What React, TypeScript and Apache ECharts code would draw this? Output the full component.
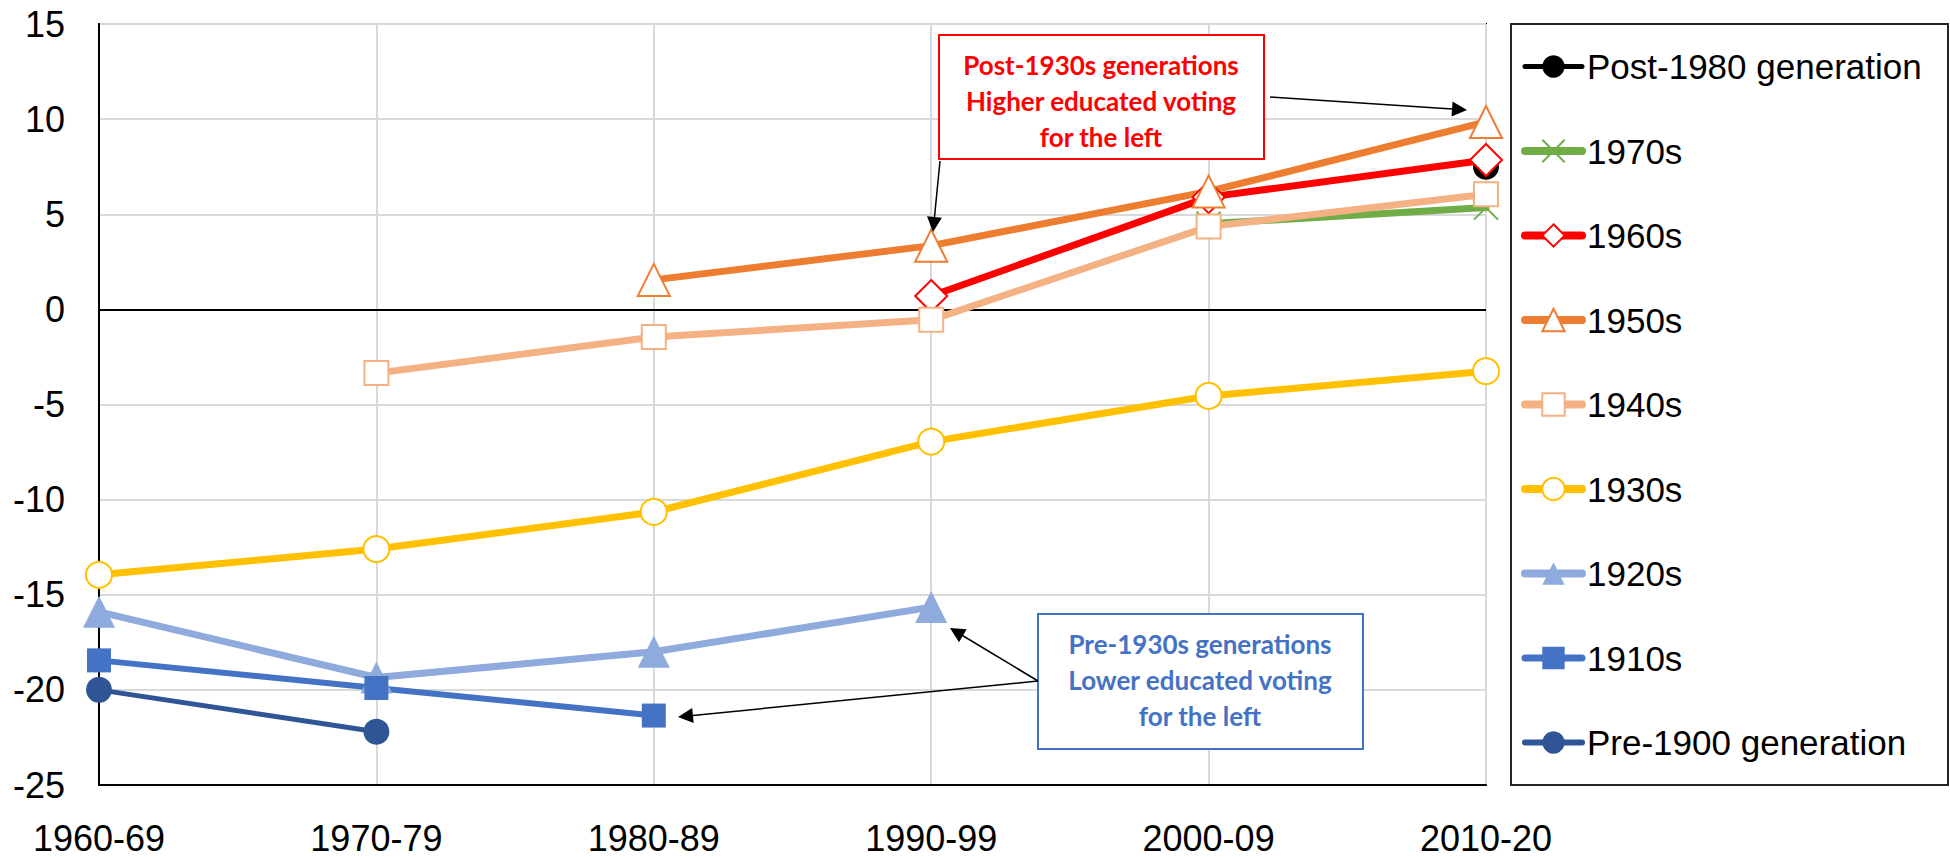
import React, { useEffect, useRef } from "react";
import * as echarts from "echarts";

const categories = ["1960-69", "1970-79", "1980-89", "1990-99", "2000-09", "2010-20"];
const seriesNames = ["Post-1980 generation", "1970s", "1960s", "1950s", "1940s", "1930s", "1920s", "1910s", "Pre-1900 generation"];
const post1980 = [null, null, null, null, null, 7.5];
const gen1970 = [null, null, null, null, 4.5, 5.35];
const gen1960 = [null, null, null, 0.7, 5.9, 7.85];
const gen1950 = [null, null, 1.55, 3.35, 6.2, 9.85];
const gen1940 = [null, -3.35, -1.45, -0.55, 4.35, 6.05];
const gen1930 = [-13.95, -12.6, -10.65, -6.95, -4.55, -3.25];
const gen1920 = [-15.9, -19.35, -18.0, -15.65, null, null];
const gen1910 = [-18.45, -19.9, -21.35, null, null, null];
const pre1900 = [-20.0, -22.2, null, null, null, null];
const yTicks = { min: -25, max: 15, interval: 5 };

const redNote = "Post-1930s generations\nHigher educated voting\nfor the left";
const blueNote = "Pre-1930s generations\nLower educated voting\nfor the left";

const AXIS_FONT = "'Liberation Sans', Arial, sans-serif";
const NOTE_FONT = "Lato, 'Open Sans', sans-serif";

type Style = {
  color: string;
  width: number;
  symbol: string;
  size: number;
  fill: string;
  border: number;
};

const styles: Style[] = [
  { color: "#000000", width: 4, symbol: "circle", size: 26, fill: "#000000", border: 0 },
  { color: "#70AD47", width: 7, symbol: "path://M0,0L10,10M10,0L0,10", size: 24, fill: "#70AD47", border: 2 },
  { color: "#FF0000", width: 7, symbol: "diamond", size: 32, fill: "#FFFFFF", border: 2 },
  { color: "#ED7D31", width: 7, symbol: "triangle", size: 32, fill: "#FFFFFF", border: 2 },
  { color: "#F4B183", width: 7, symbol: "rect", size: 24, fill: "#FFFFFF", border: 2 },
  { color: "#FFC000", width: 7, symbol: "circle", size: 26, fill: "#FFFFFF", border: 2 },
  { color: "#8FAADC", width: 7, symbol: "triangle", size: 32, fill: "#8FAADC", border: 0 },
  { color: "#4472C4", width: 6, symbol: "rect", size: 24, fill: "#4472C4", border: 0 },
  { color: "#2F5597", width: 5, symbol: "circle", size: 26, fill: "#2F5597", border: 0 },
];

function arrow(x1: number, y1: number, x2: number, y2: number) {
  const dx = x2 - x1;
  const dy = y2 - y1;
  const len = Math.sqrt(dx * dx + dy * dy);
  const ux = dx / len;
  const uy = dy / len;
  const hl = 15;
  const hw = 7.5;
  const bx = x2 - ux * hl;
  const by = y2 - uy * hl;
  return [
    {
      type: "line",
      shape: { x1, y1, x2: bx, y2: by },
      style: { stroke: "#000", lineWidth: 1.5 },
      z: 100,
    },
    {
      type: "polygon",
      shape: {
        points: [
          [x2, y2],
          [bx - uy * hw, by + ux * hw],
          [bx + uy * hw, by - ux * hw],
        ],
      },
      style: { fill: "#000" },
      z: 100,
    },
  ];
}

export default function App() {
  const ref = useRef<HTMLDivElement>(null);
  useEffect(() => {
    if (!ref.current) return;
    const chart = echarts.init(ref.current, undefined, { renderer: "svg" });
    const datasets = [post1980, gen1970, gen1960, gen1950, gen1940, gen1930, gen1920, gen1910, pre1900];
    const series: any[] = datasets.map((d, i) => {
      const s = styles[i];
      const obj: any = {
        name: seriesNames[i],
        type: "line",
        data: d,
        connectNulls: false,
        symbol: s.symbol,
        symbolSize: s.size,
        showAllSymbol: true,
        lineStyle: { color: s.color, width: s.width, cap: "round", join: "round" },
        itemStyle: { color: s.fill, borderColor: s.color, borderWidth: s.border },
        emphasis: { disabled: true },
        z: 3,
      };
      if (i === 0) {
        obj.markLine = {
          silent: true,
          symbol: "none",
          label: { show: false },
          lineStyle: { color: "#000", width: 2, type: "solid" },
          data: [{ yAxis: 0 }],
          z: 2,
        };
      }
      return obj;
    });

    const option: any = {
      animation: false,
      grid: {
        left: 99,
        top: 24,
        right: 464,
        bottom: 72,
        show: true,
        borderColor: "#000",
        borderWidth: 2,
        backgroundColor: "transparent",
      },
      xAxis: {
        type: "category",
        data: categories,
        boundaryGap: false,
        axisLine: { show: true, onZero: false, lineStyle: { color: "#000", width: 2 } },
        axisTick: { show: false },
        splitLine: { show: true, lineStyle: { color: "#D9D9D9", width: 2 } },
        axisLabel: { fontFamily: AXIS_FONT, fontSize: 36, color: "#000", margin: 35 },
      },
      yAxis: {
        type: "value",
        min: yTicks.min,
        max: yTicks.max,
        interval: yTicks.interval,
        axisLine: { show: true, lineStyle: { color: "#000", width: 2 } },
        axisTick: { show: false },
        splitLine: { show: true, lineStyle: { color: "#D9D9D9", width: 2 } },
        axisLabel: { fontFamily: AXIS_FONT, fontSize: 36, color: "#000", margin: 34 },
      },
      legend: {
        orient: "vertical",
        left: 1521,
        top: 49,
        padding: 0,
        itemWidth: 57,
        itemHeight: 28,
        itemGap: 49.5,
        selectedMode: false,
        textStyle: { fontFamily: AXIS_FONT, fontSize: 35, color: "#000" },
        data: seriesNames.map((n, i) => ({
          name: n,
          lineStyle: { width: styles[i].width + 1, cap: "round" },
        })),
      },
      graphic: [
        {
          type: "rect",
          shape: { x: 1511, y: 24, width: 437, height: 761 },
          style: { fill: "none", stroke: "#262626", lineWidth: 2 },
          z: 0,
        },
        {
          type: "rect",
          shape: { x: 939, y: 35, width: 325, height: 124 },
          style: { fill: "#FFFFFF", stroke: "#FF0000", lineWidth: 2 },
          z: 100,
        },
        {
          type: "text",
          x: 1101,
          y: 101,
          style: {
            text: redNote,
            fill: "#FF0000",
            font: `bold 26px ${NOTE_FONT}`,
            align: "center",
            verticalAlign: "middle",
            lineHeight: 36,
          },
          z: 101,
        },
        {
          type: "rect",
          shape: { x: 1038, y: 614, width: 325, height: 135 },
          style: { fill: "#FFFFFF", stroke: "#4472C4", lineWidth: 2 },
          z: 100,
        },
        {
          type: "text",
          x: 1200,
          y: 680,
          style: {
            text: blueNote,
            fill: "#4472C4",
            font: `bold 26px ${NOTE_FONT}`,
            align: "center",
            verticalAlign: "middle",
            lineHeight: 36,
          },
          z: 101,
        },
        ...arrow(940, 161, 933, 232),
        ...arrow(1270, 97, 1467, 110),
        ...arrow(1038, 681, 950, 628),
        ...arrow(1038, 681, 678, 717),
      ],
      series,
    };
    chart.setOption(option);
    return () => chart.dispose();
  }, []);
  return (
    <div
      ref={ref}
      style={{ position: "absolute", left: 0, top: 0, width: 1950, height: 857, background: "#fff" }}
    />
  );
}
